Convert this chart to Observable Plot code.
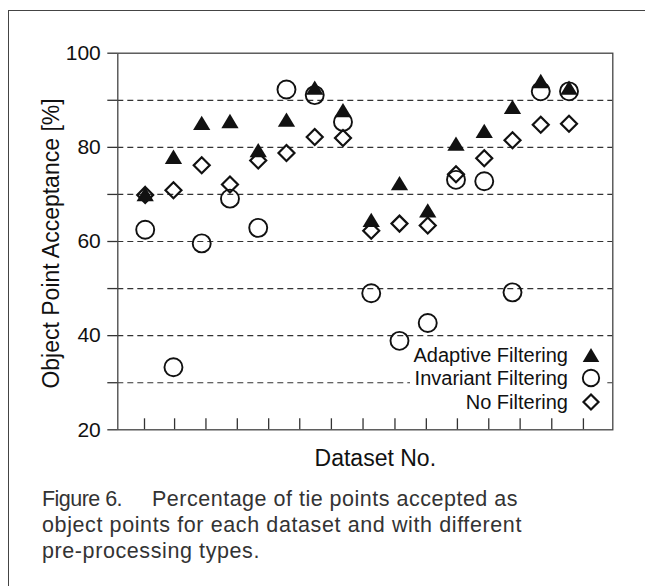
<!DOCTYPE html>
<html>
<head>
<meta charset="utf-8">
<script src="https://cdn.jsdelivr.net/npm/d3@7"></script>
<script src="https://cdn.jsdelivr.net/npm/@observablehq/plot@0.6"></script>
<style>
  html, body { margin: 0; padding: 0; background: #fff; }
  #page { position: relative; width: 645px; height: 586px; overflow: hidden; background: #fff; font-family: "Liberation Sans", Arial, sans-serif; }
  #box { position: absolute; left: 8px; top: 10px; width: 660px; height: 600px; border-left: 1.4px solid #444; border-top: 1.4px solid #444; }
  #chart { position: absolute; left: 0; top: 0; }
  #legend { position: absolute; left: 410px; top: 341px; width: 196px; height: 73px; background: #fff; color: #111; font-size: 20px; }
  .row { position: absolute; right: 38px; height: 24px; line-height: 24px; white-space: nowrap; }
  .sym { position: absolute; left: 170px; width: 22px; height: 22px; }
  #caption { position: absolute; left: 42px; top: 486px; font-size: 21.5px; line-height: 26px; color: #333; white-space: nowrap; }
  #caption span { display: inline-block; white-space: pre; }
</style>
</head>
<body>
<div id="page">
  <div id="box"></div>
  <div id="chart"></div>
  <div id="legend"></div>
  <div id="caption"></div>
</div>
<script>
// ---- data ----
const datasets = [1, 2, 3, 4, 5, 6, 7, 8, 9, 10, 11, 12, 13, 14, 15, 16];
const adaptive  = [70.1, 78.0, 85.2, 85.6, 79.4, 85.9, 92.7, 87.9, 64.6, 72.4, 66.6, 80.8, 83.5, 88.6, 94.1, 92.7];
const invariant = [62.5, 33.3, 59.6, 69.1, 62.9, 92.3, 91.1, 85.4, 49.0, 38.9, 42.7, 73.1, 72.8, 49.2, 91.9, 91.9];
const noFilter  = [69.9, 70.9, 76.2, 72.1, 77.2, 78.8, 82.2, 82.0, 62.3, 63.8, 63.4, 74.3, 77.7, 81.5, 84.8, 85.0];
const seriesNames = ["Adaptive Filtering", "Invariant Filtering", "No Filtering"];
const yTicks = [20, 30, 40, 50, 60, 70, 80, 90, 100];
const yLabelled = [20, 40, 60, 80, 100];
const gridValues = [30, 40, 50, 60, 70, 80, 90];
const xTicks = [0.975, 2.04, 3.15, 4.26, 5.37, 6.47, 7.59, 8.71, 9.84, 10.95, 12.05, 13.16, 14.27, 15.39, 16.51];
const xTitle = "Dataset No.";
const yTitle = "Object Point Acceptance [%]";
const captionLines = ["Figure 6.", "Percentage of tie points accepted as", "object points for each dataset and with different", "pre-processing types."];

// ---- tables ----
const rows = (vals) => datasets.map((d, i) => ({dataset: d, value: vals[i]}));
const adaptiveRows = rows(adaptive);
const invariantRows = rows(invariant);
const noFilterRows = rows(noFilter);

// triangle centred on its bounding box (spreadsheet-style marker)
const boxTriangle = {
  draw(context, size) {
    const r = Math.sqrt(size / Math.PI);
    const a = r * 1.37, b = r * 1.14;
    context.moveTo(0, -b);
    context.lineTo(a, b);
    context.lineTo(-a, b);
    context.closePath();
  }
};

const W = 645, H = 480;
const chart = Plot.plot({
  width: W,
  height: H,
  marginLeft: 117.3,
  marginRight: 32.7,
  marginTop: 52.7,
  marginBottom: 50.7,
  style: {fontFamily: "'Liberation Sans', Arial, sans-serif", color: "#111", background: "transparent"},
  x: {domain: [0.03, 17.55], axis: null},
  y: {domain: [20, 100], axis: null},
  marks: [
    Plot.ruleY(gridValues, {stroke: "#333", strokeWidth: 1.2, strokeDasharray: "6,4"}),
    Plot.tickX(xTicks, {x: d => d, stroke: "#333", strokeWidth: 1.3, insetTop: (H - 52.7 - 50.7) - 11}),
    Plot.axisY(yTicks, {
      anchor: "left",
      tickSize: 10,
      tickPadding: 7,
      stroke: "#333",
      strokeWidth: 1.3,
      fontSize: 21,
      fill: "#111",
      tickFormat: d => yLabelled.includes(d) ? String(d) : "",
      label: null
    }),
    Plot.frame({stroke: "#444", strokeWidth: 1.3}),
    Plot.text([yTitle], {frameAnchor: "left", textAnchor: "middle", rotate: -90, dx: -66, dy: 2, fontSize: 23, fill: "#111"}),
    Plot.text([xTitle], {frameAnchor: "bottom", textAnchor: "middle", dx: 10, dy: 36, fontSize: 23, fill: "#111"}),
    Plot.dot(invariantRows, {x: "dataset", y: "value", symbol: "circle", r: 9, stroke: "#111", strokeWidth: 1.9, fill: "none"}),
    Plot.dot(noFilterRows, {x: "dataset", y: "value", symbol: "diamond2", r: 7.2, stroke: "#111", strokeWidth: 2.2, fill: "none"}),
    Plot.dot(adaptiveRows, {x: "dataset", y: "value", symbol: boxTriangle, r: 6.3, fill: "#111", stroke: "none"})
  ]
});
document.getElementById("chart").appendChild(chart);

// ---- legend ----
const legend = document.getElementById("legend");
const symbolsSvg = [
  '<svg class="sym" viewBox="-11 -11 22 22"><path d="M0,-7L8.3,7L-8.3,7Z" fill="#111"/></svg>',
  '<svg class="sym" viewBox="-11 -11 22 22"><circle r="8.2" fill="none" stroke="#111" stroke-width="1.9"/></svg>',
  '<svg class="sym" viewBox="-11 -11 22 22"><path d="M0,-7.5L7.5,0L0,7.5L-7.5,0Z" fill="none" stroke="#111" stroke-width="2.2"/></svg>'
];
const rowTops = [2, 25, 49];
seriesNames.forEach((name, i) => {
  const r = document.createElement("div");
  r.className = "row";
  r.style.top = rowTops[i] + "px";
  r.textContent = name;
  legend.appendChild(r);
  const s = document.createElement("div");
  s.innerHTML = symbolsSvg[i];
  const svg = s.firstChild;
  svg.style.top = (rowTops[i] + 1) + "px";
  legend.appendChild(svg);
});

// ---- caption (each line fitted to the width it has in the figure) ----
const cap = document.getElementById("caption");
const capParts = [
  {text: captionLines[0], left: 0, width: 80},
  {text: captionLines[1], left: 110, width: 366},
  {text: captionLines[2], left: 0, width: 480},
  {text: captionLines[3], left: 0, width: 218}
];
const lineOf = [0, 0, 1, 2];
const lineDivs = [0, 1, 2].map(() => {
  const d = document.createElement("div");
  d.style.position = "relative";
  d.style.height = "26px";
  cap.appendChild(d);
  return d;
});
capParts.forEach((p, i) => {
  const s = document.createElement("span");
  s.textContent = p.text;
  s.style.position = "absolute";
  s.style.left = p.left + "px";
  s.style.top = "0px";
  lineDivs[lineOf[i]].appendChild(s);
  const w = s.getBoundingClientRect().width;
  const n = p.text.length;
  s.style.letterSpacing = ((p.width - w) / n) + "px";
});
</script>
</body>
</html>
